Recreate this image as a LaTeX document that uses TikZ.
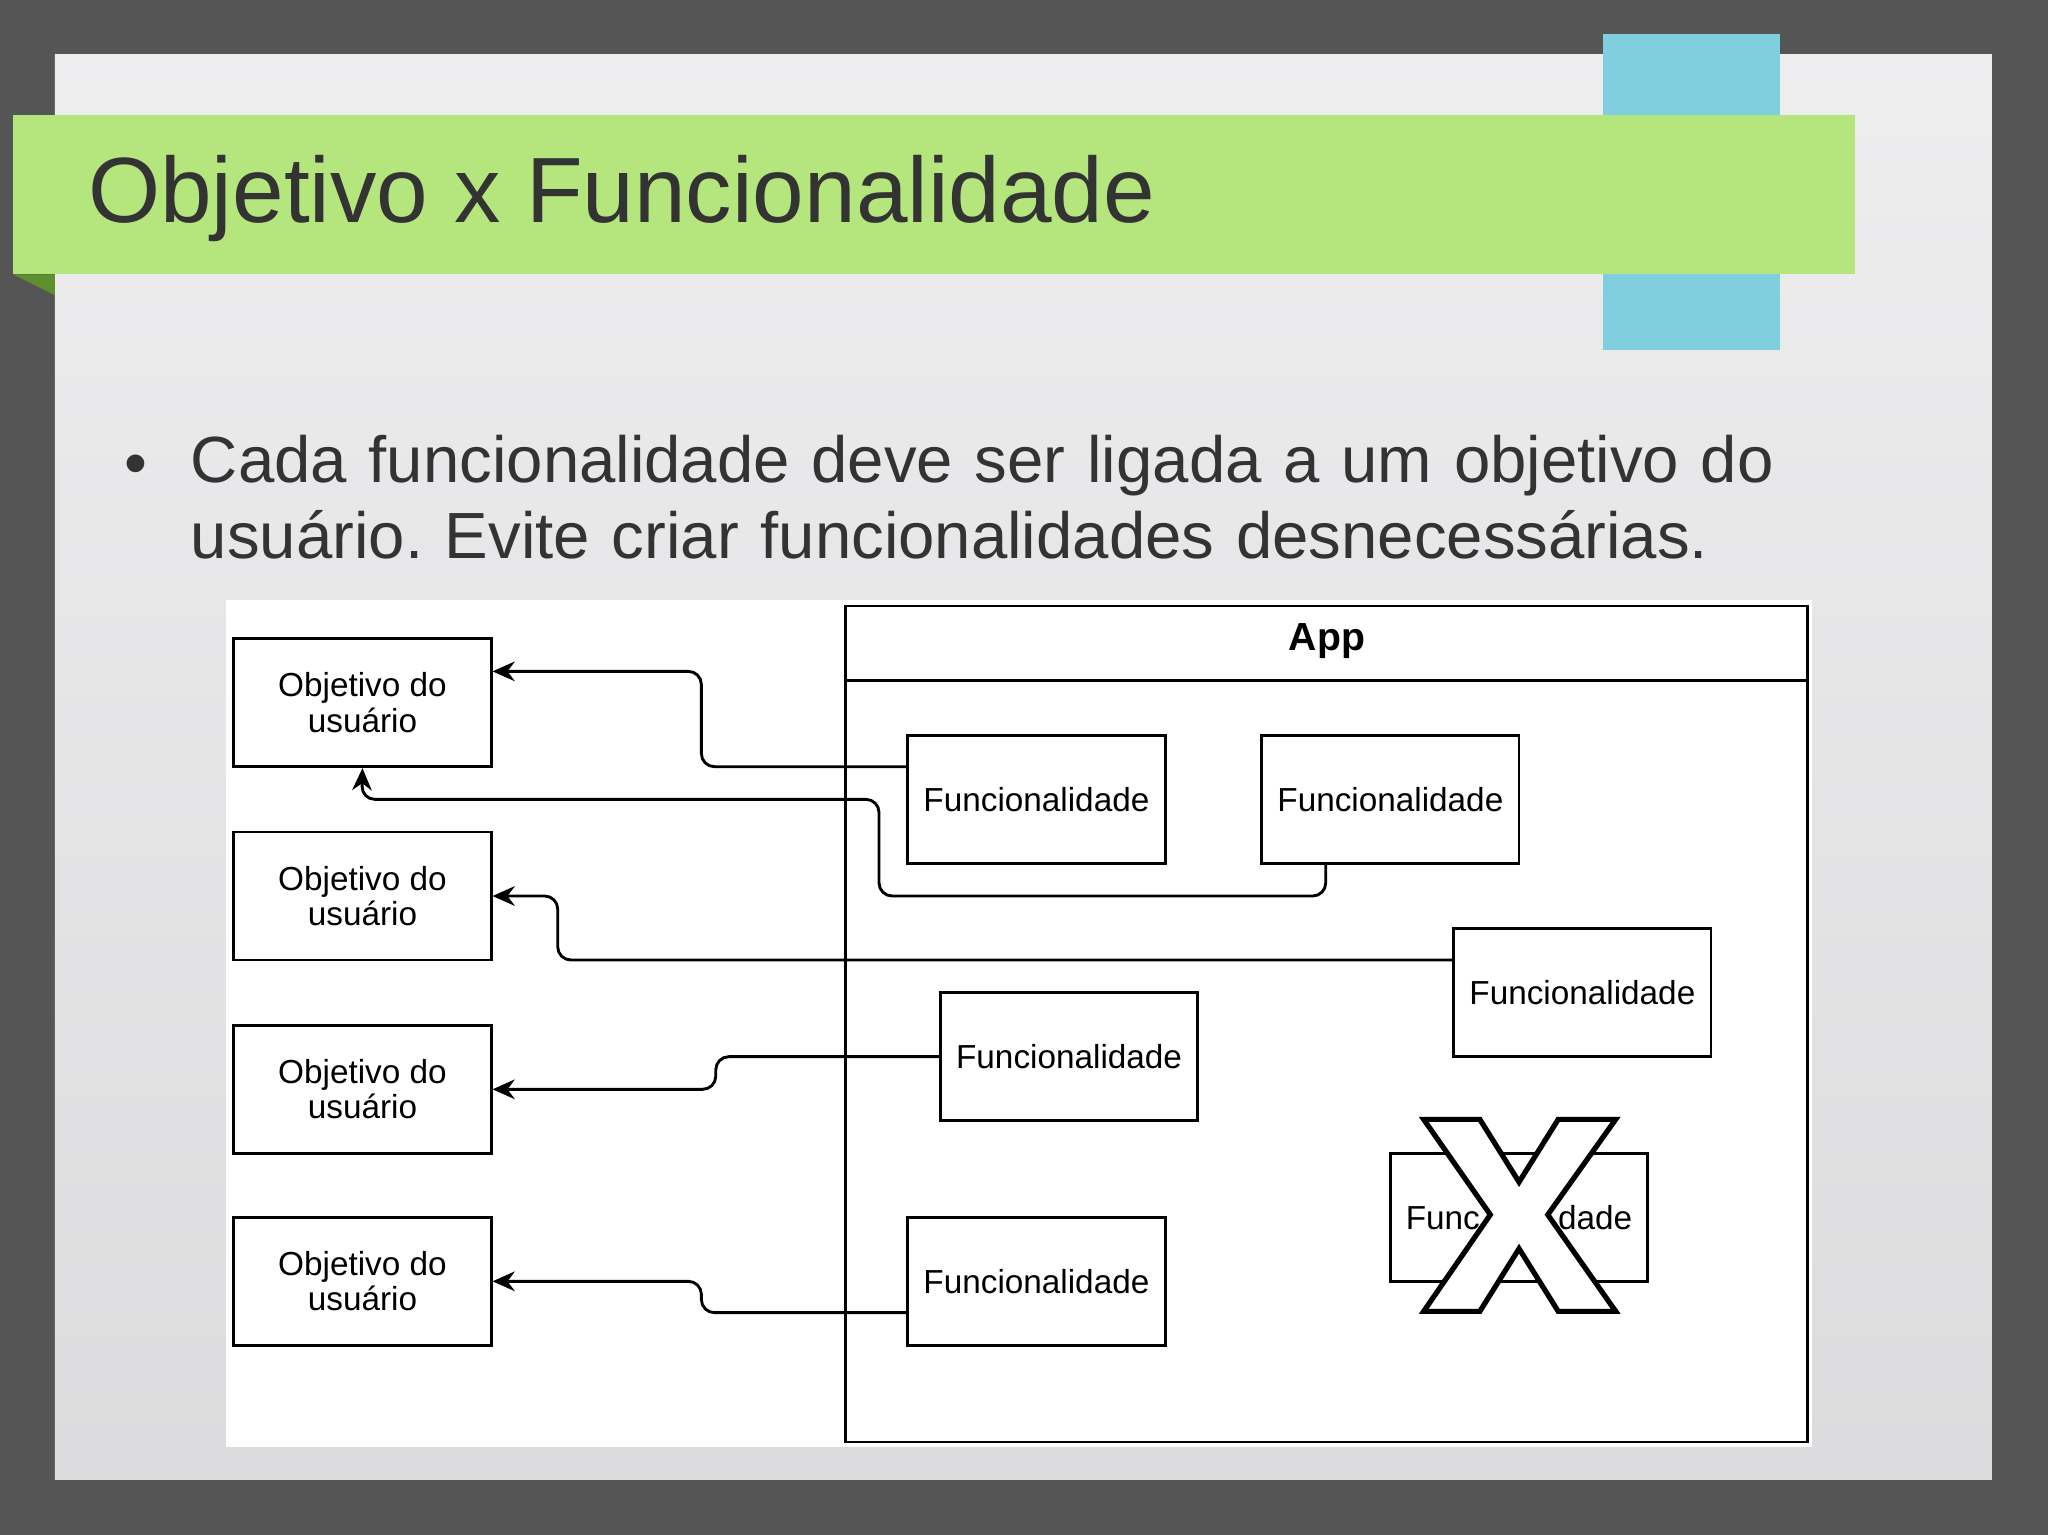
\documentclass[tikz,border=0pt]{standalone}
\usepackage{fontspec}
\setmainfont{Liberation Sans}
\usetikzlibrary{arrows.meta}
\definecolor{bgdark}{HTML}{555555}
\definecolor{slide}{HTML}{E6E6E8}
\definecolor{bluebar}{HTML}{80CFDF}
\definecolor{greenbar}{HTML}{B5E67E}
\definecolor{greendark}{HTML}{5E8F2E}
\definecolor{txt}{HTML}{333333}
\tikzset{
  box/.style={draw=black, line width=2.2pt, fill=white, minimum width=197pt, minimum height=98pt, inner sep=0pt, align=center, font=\fontsize{25.5}{27}\selectfont},
  conn/.style={line width=2.2pt, rounded corners=10pt, -{Stealth[length=17pt,width=15pt]}}
}
\begin{document}
\begin{tikzpicture}[x=1pt,y=-1pt]
\useasboundingbox (0,0) rectangle (1568,1175);
\fill[bgdark] (0,0) rectangle (1568,1175);
\shade[top color=slide!70!white, bottom color=slide!90!gray] (42,42) rectangle (1525,1133);
\fill[bluebar] (1227,26) rectangle (1363,268);
\fill[greendark] (10,210) -- (42,210) -- (42,226) -- cycle;
\fill[greenbar] (10,88) rectangle (1420,210);
\node[anchor=west, text=txt, font=\fontsize{71}{78}\selectfont] (title) at (64,152) {Objetivo x Funcionalidade};
\node[anchor=north west, inner sep=0pt, text=txt, font=\fontsize{50}{58}\selectfont, align=left, text width=1260pt] (bul) at (146,333) {\frenchspacing Cada funcionalidade deve ser ligada a um objetivo do usuário. Evite criar funcionalidades desnecessárias.};
\node[text=txt, font=\fontsize{50}{58}\selectfont] (dot) at (104,360) {•};
\fill[white] (173,459) rectangle (1387,1108);
\draw[line width=2.2pt] (647,464) rectangle (1384,1104);
\draw[line width=2.2pt] (647,521) -- (1384,521);
\node[font=\bfseries\fontsize{30}{34}\selectfont] (app) at (1016,491) {App};
\node[box] (o1) at (277.5,538) {Objetivo do\\usuário};
\node[box] (o2) at (277.5,686) {Objetivo do\\usuário};
\node[box] (o3) at (277.5,834) {Objetivo do\\usuário};
\node[box] (o4) at (277.5,981) {Objetivo do\\usuário};
\node[box] (f1) at (793.5,612) {Funcionalidade};
\node[box] (f2) at (1064.5,612) {Funcionalidade};
\node[box] (f3) at (1211.5,760) {Funcionalidade};
\node[box] (f4) at (818.5,809) {Funcionalidade};
\node[box] (f5) at (793.5,981) {Funcionalidade};
\node[box] (fx) at (1163,932) {Func\hspace{60pt}dade};
\draw[line width=4pt, fill=white] (1090,857) -- (1133,857) -- (1163,905) -- (1193,857) -- (1237,857) -- (1185,930) -- (1237,1004) -- (1193,1004) -- (1163,956) -- (1133,1004) -- (1090,1004) -- (1141,930) -- cycle;
\draw[conn] (f1.west |- 0,587) -- (537,587) -- (537,514) -- (o1.east |- 0,514);
\draw[conn] (f2.south -| 1015,0) -- (1015,686) -- (673,686) -- (673,612) -- (277,612) -- (o1.south);
\draw[conn] (f3.west |- 0,735) -- (427,735) -- (427,686) -- (o2.east);
\draw[conn] (f4.west) -- (548,809) -- (548,834) -- (o3.east);
\draw[conn] (f5.west |- 0,1005) -- (537,1005) -- (537,981) -- (o4.east);
\end{tikzpicture}
\end{document}
